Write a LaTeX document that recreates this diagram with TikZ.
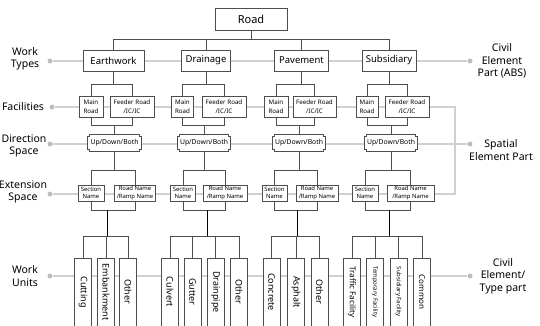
\documentclass[tikz,border=0pt]{standalone}
\usepackage{fontspec}
\setmainfont{Noto Sans}
\usetikzlibrary{calc}
\definecolor{boxgray}{HTML}{4D4D4D}
\definecolor{guidegray}{HTML}{D0D0D0}
\definecolor{dotgray}{HTML}{BDBDBD}
\pgfdeclarelayer{guide}
\pgfdeclarelayer{frame}
\pgfsetlayers{guide,frame,main}
\newcommand{\notchdraw}[1]{%
  \draw[boxline,fill=white] ($(#1.north west)+(0,2)$) -- ++(2,0) -- ++(0,-2)
    -- ($(#1.north east)+(-2,0)$) -- ++(0,2) -- ++(2,0)
    -- ($(#1.south east)+(0,-2)$) -- ++(-2,0) -- ++(0,2)
    -- ($(#1.south west)+(2,0)$) -- ++(0,-2) -- ++(-2,0) -- cycle;}

\begin{document}
\begin{tikzpicture}[x=1pt,y=-1pt,
  boxline/.style={draw=boxgray,line width=0.8pt},
  tree/.style={draw=boxgray,line width=0.9pt},
  guide/.style={draw=guidegray,line width=1.2pt},
  gdot/.style={circle,fill=dotgray,inner sep=0pt,minimum size=5pt},
  sidelabel/.style={align=center,font=\fontsize{10.5}{12.5}\selectfont},
  topbox/.style={boxline,fill=white,inner sep=0pt,minimum height=22,font=\fontsize{11}{13}\selectfont},
  typebox/.style={boxline,fill=white,inner sep=0pt,minimum height=21,font=\fontsize{9.5}{11}\selectfont},
  facbox/.style={boxline,fill=white,inner sep=0pt,minimum height=21,align=center,font=\fontsize{6.2}{8.5}\selectfont},
  dirbox/.style={inner sep=0pt,minimum height=16,minimum width=53,font=\fontsize{6.8}{8}\selectfont},
  extbox/.style={boxline,fill=white,inner sep=0pt,minimum height=16,align=center,font=\fontsize{5.9}{7.5}\selectfont},
  unitbox/.style={boxline,fill=white,inner sep=0pt,minimum width=17,minimum height=68,font=\fontsize{9}{10}\selectfont}]
\useasboundingbox (0,0) rectangle (540,325);
\clip (0,0) rectangle (540,325);

\node[topbox,minimum width=72] (road) at (251,19) {Road};

\node[typebox,minimum width=61] (earth) at (113.5,60.5) {Earthwork};
\node[typebox,minimum width=49] (drain) at (206,60.5) {Drainage};
\node[typebox,minimum width=54] (pave) at (301.5,60.5) {Pavement};
\node[typebox,minimum width=54] (subs) at (389,60.5) {Subsidiary};

\node[facbox,minimum width=24] (main1) at (91,106.5) {Main\\Road};
\node[facbox,minimum width=44] (feed1) at (132,106.5) {Feeder Road\\/IC/IC};
\node[facbox,minimum width=22] (main2) at (182.5,106.5) {Main\\Road};
\node[facbox,minimum width=44] (feed2) at (224,106.5) {Feeder Road\\/IC/IC};
\node[facbox,minimum width=24] (main3) at (276,106.5) {Main\\Road};
\node[facbox,minimum width=43] (feed3) at (314.5,106.5) {Feeder Road\\/IC/IC};
\node[facbox,minimum width=22] (main4) at (367,106.5) {Main\\Road};
\node[facbox,minimum width=44] (feed4) at (407,106.5) {Feeder Road\\/IC/IC};

\node[dirbox] (dir1) at (114.5,143) {Up/Down/Both};
\node[dirbox] (dir2) at (204,143) {Up/Down/Both};
\node[dirbox] (dir3) at (299,143) {Up/Down/Both};
\node[dirbox] (dir4) at (391,143) {Up/Down/Both};

\node[extbox,minimum width=26] (sec1) at (91,193) {Section\\Name};
\node[extbox,minimum width=41] (rname1) at (135,193) {Road Name\\/Ramp Name};
\node[extbox,minimum width=25] (sec2) at (183,193) {Section\\Name};
\node[extbox,minimum width=44] (rname2) at (225,193) {Road Name\\/Ramp Name};
\node[extbox,minimum width=25] (sec3) at (274.5,193) {Section\\Name};
\node[extbox,minimum width=42] (rname3) at (317,193) {Road Name\\/Ramp Name};
\node[extbox,minimum width=26] (sec4) at (365,193) {Section\\Name};
\node[extbox,minimum width=47] (rname4) at (410.5,193) {Road Name\\/Ramp Name};

\node[unitbox] (cut) at (83,292) {\rotatebox{-90}{Cutting}};
\node[unitbox] (emb) at (106,292) {\rotatebox{-90}{Embankment}};
\node[unitbox] (oth1) at (128,292) {\rotatebox{-90}{Other}};
\node[unitbox] (culv) at (170,292) {\rotatebox{-90}{Culvert}};
\node[unitbox] (gutt) at (192.5,292) {\rotatebox{-90}{Gutter}};
\node[unitbox] (dpipe) at (215.5,292) {\rotatebox{-90}{Drainpipe}};
\node[unitbox] (oth2) at (239,292) {\rotatebox{-90}{Other}};
\node[unitbox] (conc) at (271.5,292) {\rotatebox{-90}{Concrete}};
\node[unitbox] (asph) at (296,292) {\rotatebox{-90}{Asphalt}};
\node[unitbox] (oth3) at (319.5,292) {\rotatebox{-90}{Other}};
\node[unitbox,font=\fontsize{8}{9}\selectfont] (traf) at (352,292) {\rotatebox{-90}{Traffic Facility}};
\node[unitbox,font=\fontsize{6}{7}\selectfont] (temp) at (375,292) {\rotatebox{-90}{Temporary Facility}};
\node[unitbox,font=\fontsize{6}{7}\selectfont] (subf) at (398.5,292) {\rotatebox{-90}{Subsidiary Facility}};
\node[unitbox,font=\fontsize{8}{9}\selectfont] (comm) at (422,292) {\rotatebox{-90}{Common}};

\begin{pgfonlayer}{frame}
\foreach \d in {dir1,dir2,dir3,dir4} {\notchdraw{\d}}
\end{pgfonlayer}

\foreach \w in {earth,drain,pave,subs}
  \draw[tree] (road.south) -- ++(0,9.5) -| (\w.north);

\foreach \w/\i in {earth/1,drain/2,pave/3,subs/4} {
  \draw[tree] (\w.south) -- ++(0,13) -| (main\i.north);
  \draw[tree] (\w.south) -- ++(0,13) -| (feed\i.north);
  \draw[tree] (main\i.south) -- ++(0,8) -| (dir\i.north);
  \draw[tree] (feed\i.south) -- ++(0,8) -| (dir\i.north);
  \draw[tree] (dir\i.south) -- ++(0,19) -| (sec\i.north);
  \draw[tree] (dir\i.south) -- ++(0,19) -| (rname\i.north);
}

\coordinate (join1) at (107,210);
\coordinate (join2) at (207,210);
\coordinate (join3) at (297,210);
\coordinate (join4) at (389,210);
\coordinate (hub1) at (107,236);
\coordinate (hub2) at (207,236);
\coordinate (hub3) at (297,236);
\coordinate (hub4) at (389,236);
\foreach \i in {1,...,4} {
  \draw[tree] (sec\i.south) |- (join\i);
  \draw[tree] (rname\i.south) |- (join\i);
  \draw[black,line width=1pt] (join\i) -- (hub\i);
}
\foreach \u in {cut,emb,oth1}
  \draw[tree] (hub1) -| (\u.north);
\foreach \u in {culv,gutt,dpipe,oth2}
  \draw[tree] (hub2) -| (\u.north);
\foreach \u in {conc,asph,oth3}
  \draw[tree] (hub3) -| (\u.north);
\foreach \u in {traf,temp,subf,comm}
  \draw[tree] (hub4) -| (\u.north);

\node[gdot] (ldot1) at (50,61) {};
\node[gdot] (ldot2) at (52,107) {};
\node[gdot] (ldot3) at (50,144) {};
\node[gdot] (ldot4) at (50,194) {};
\node[gdot] (ldot5) at (50,276) {};
\node[gdot] (rdot1) at (470,61) {};
\node[gdot] (rdot3) at (470,144) {};
\node[gdot] (rdot5) at (470,276) {};
\coordinate (loopT) at (455,107);
\coordinate (loopB) at (455,194);

\begin{pgfonlayer}{guide}
\draw[guide] (ldot1) -- (rdot1);
\draw[guide] (ldot2) -- (loopT) -- (loopB) -- (ldot4);
\draw[guide] (ldot3) -- (rdot3);
\draw[guide] (ldot5) -- (rdot5);
\end{pgfonlayer}

\node[sidelabel] (lwork) at (25,59) {Work\\Types};
\node[sidelabel] (lfac) at (23,107) {Facilities};
\node[sidelabel] (ldir) at (24,146) {Direction\\Space};
\node[sidelabel] (lext) at (23,192) {Extension\\Space};
\node[sidelabel] (lunit) at (25,276) {Work\\Units};
\node[sidelabel] (rabs) at (502,61) {Civil\\Element\\Part (ABS)};
\node[sidelabel] (rspace) at (501,150) {Spatial\\Element Part};
\node[sidelabel] (rtype) at (503,276) {Civil\\Element/\\Type part};
\end{tikzpicture}
\end{document}
